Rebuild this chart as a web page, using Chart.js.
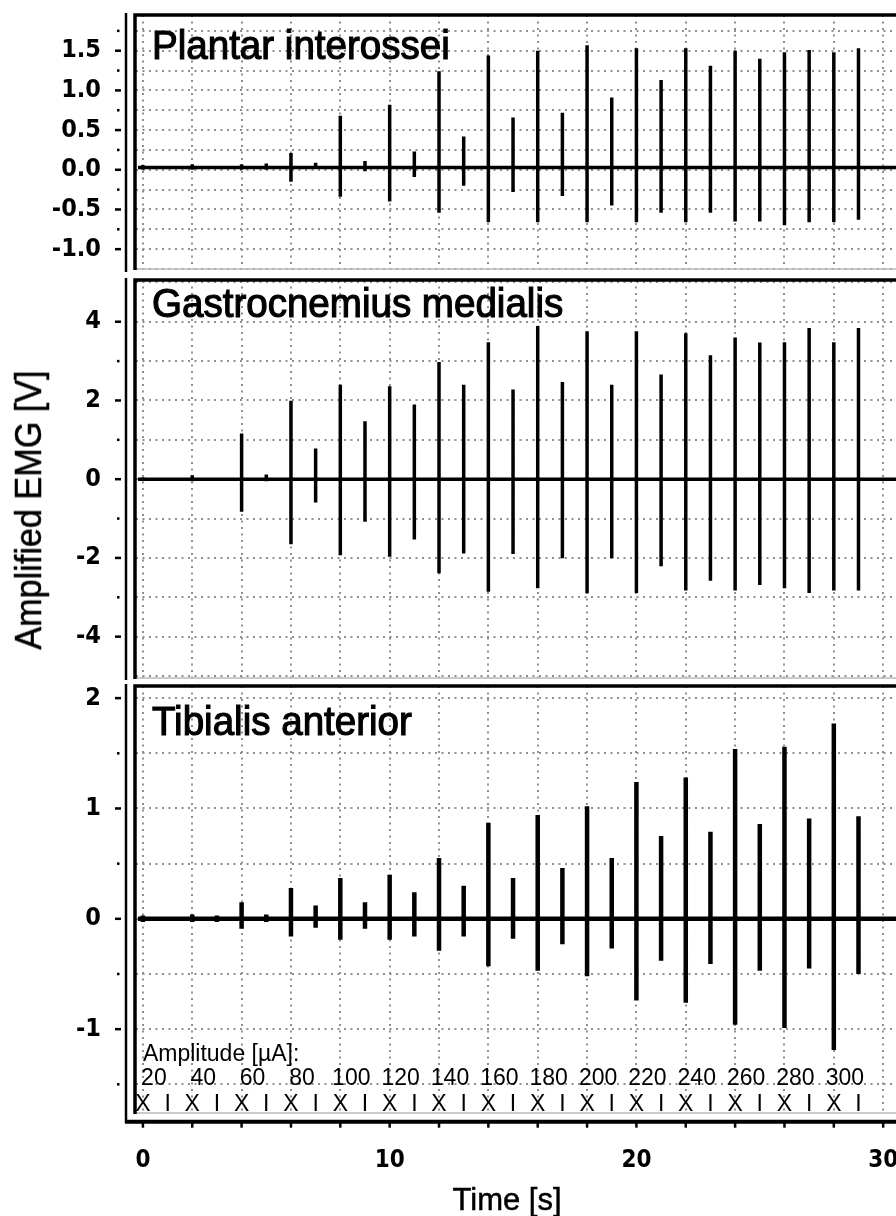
<!DOCTYPE html>
<html>
<head>
<meta charset="utf-8">
<script src="https://cdn.jsdelivr.net/npm/chart.js@4.4.1/dist/chart.umd.min.js"></script>
<style>
html, body { margin: 0; padding: 0; background: #fff; overflow: hidden; }
#wrap { position: relative; width: 896px; height: 1216px; }
#wrap canvas { position: absolute; left: 0; }
.axtitle { position: absolute; white-space: nowrap; line-height: 1; color: #000;
  font-family: "Liberation Sans", Arial, sans-serif; -webkit-text-stroke: 0.5px #000; }
#ytitle { left: 29px; top: 510px; font-size: 36px;
  transform: translate(-50%, -50%) rotate(-90deg) scaleX(0.95); }
#xtitle { left: 507px; top: 1184px; font-size: 31px; transform: translateX(-50%); }
</style>
</head>
<body>
<div id="wrap">
  <canvas id="plantar" width="896" height="272" style="top:0px"></canvas>
  <canvas id="gastro" width="896" height="408" style="top:272px"></canvas>
  <canvas id="tibialis" width="896" height="536" style="top:680px"></canvas>
  <div id="ytitle" class="axtitle">Amplified EMG [V]</div>
  <div id="xtitle" class="axtitle">Time [s]</div>
</div>
<script>
// stimulus times [s], one pulse per second
var stimTimes = [0, 1, 2, 3, 4, 5, 6, 7, 8, 9, 10, 11, 12, 13, 14, 15, 16, 17, 18, 19, 20, 21, 22, 23, 24, 25, 26, 27, 28, 29];

// peak / trough of each evoked response [V]
var plantarMax = [0.06, 0.03, 0.07, 0.03, 0.07, 0.08, 0.21, 0.09, 0.68, 0.11, 0.82, 0.23, 1.24, 0.42, 1.44, 0.66, 1.50, 0.72, 1.57, 0.91, 1.53, 1.13, 1.53, 1.31, 1.50, 1.40, 1.48, 1.51, 1.48, 1.53];
var plantarMin = [0.00, 0.03, 0.00, 0.03, 0.00, 0.00, -0.15, 0.02, -0.34, -0.02, -0.40, -0.09, -0.54, -0.20, -0.66, -0.28, -0.66, -0.33, -0.66, -0.45, -0.66, -0.54, -0.66, -0.54, -0.65, -0.65, -0.70, -0.66, -0.66, -0.63];

var gastroMax = [0.05, 0.00, 0.10, 0.00, 1.16, 0.12, 1.99, 0.78, 2.40, 1.47, 2.36, 1.90, 2.98, 2.40, 3.48, 2.28, 3.89, 2.47, 3.76, 2.40, 3.76, 2.66, 3.71, 3.15, 3.60, 3.47, 3.48, 3.84, 3.48, 3.84];
var gastroMin = [-0.03, 0.00, -0.05, 0.00, -0.83, -0.05, -1.65, -0.59, -1.93, -1.08, -1.97, -1.53, -2.39, -1.89, -2.86, -1.90, -2.77, -2.01, -2.90, -2.01, -2.89, -2.21, -2.83, -2.58, -2.83, -2.69, -2.77, -2.89, -2.83, -2.83];

var tibialisMax = [0.03, 0.02, 0.04, 0.03, 0.15, 0.04, 0.28, 0.12, 0.37, 0.15, 0.40, 0.24, 0.55, 0.30, 0.87, 0.37, 0.94, 0.46, 1.02, 0.55, 1.24, 0.75, 1.28, 0.79, 1.54, 0.86, 1.56, 0.91, 1.77, 0.93];
var tibialisMin = [-0.03, -0.02, -0.03, -0.03, -0.09, -0.03, -0.16, -0.08, -0.19, -0.09, -0.19, -0.16, -0.29, -0.16, -0.43, -0.18, -0.47, -0.23, -0.52, -0.27, -0.74, -0.38, -0.76, -0.41, -0.96, -0.47, -0.99, -0.45, -1.19, -0.50];

// resting level of each trace
var plantarRest = 0.03;
var gastroRest = 0;
var tibialisRest = 0;
var traceStart = -0.2;
var traceEnd = 30.6;

// axes
var timeTicks = [0, 2, 4, 6, 8, 10, 12, 14, 16, 18, 20, 22, 24, 26, 28, 30];
var timeLabels = [0, 10, 20, 30];
var plantarTicks = [-1.25, -1, -0.75, -0.5, -0.25, 0, 0.25, 0.5, 0.75, 1, 1.25, 1.5, 1.75];
var plantarLabels = [-1, -0.5, 0, 0.5, 1, 1.5];
var gastroTicks = [-5, -4, -3, -2, -1, 0, 1, 2, 3, 4, 5];
var gastroLabels = [-4, -2, 0, 2, 4];
var tibialisTicks = [-1.5, -1, -0.5, 0, 0.5, 1, 1.5, 2];
var tibialisLabels = [-1, 0, 1, 2];

// stimulation protocol
var ampTimes = [0, 2, 4, 6, 8, 10, 12, 14, 16, 18, 20, 22, 24, 26, 28];
var amplitudes = [20, 40, 60, 80, 100, 120, 140, 160, 180, 200, 220, 240, 260, 280, 300];
var pulseMarks = ['X', 'I', 'X', 'I', 'X', 'I', 'X', 'I', 'X', 'I', 'X', 'I', 'X', 'I', 'X', 'I', 'X', 'I', 'X', 'I', 'X', 'I', 'X', 'I', 'X', 'I', 'X', 'I', 'X', 'I'];

var tickFont = "'DejaVu Sans Condensed', 'DejaVu Sans', sans-serif";
var textFont = "'Liberation Sans', Arial, sans-serif";

function trace(maxs, mins, rest) {
    var pts = [{ x: traceStart, y: rest }];
    stimTimes.forEach(function (t, i) {
        pts.push({ x: t, y: rest }, { x: t, y: maxs[i] }, { x: t, y: mins[i] }, { x: t, y: rest });
    });
    pts.push({ x: traceEnd, y: rest });
    return pts;
}

function fmt(v, dec) {
    return dec ? v.toFixed(dec) : String(v);
}

var panelDecor = {
    id: 'panelDecor',
    afterDraw: function (chart, args, o) {
        var ctx = chart.ctx, a = chart.chartArea;
        var x = chart.scales.x, y = chart.scales.y;
        var axX = a.left - 10;
        ctx.save();

        // grey lower edge of panel
        ctx.strokeStyle = '#b8b8b8';
        ctx.lineWidth = 1.5;
        ctx.beginPath();
        ctx.moveTo(a.left, a.bottom);
        ctx.lineTo(a.right, a.bottom);
        ctx.stroke();

        // heavy top / left frame
        ctx.strokeStyle = '#000';
        ctx.lineWidth = 3.5;
        ctx.beginPath();
        ctx.moveTo(a.left - 1, a.bottom + 1);
        ctx.lineTo(a.left - 1, a.top);
        ctx.lineTo(a.right, a.top);
        ctx.stroke();

        // y axis line + ticks
        var axBottom = o.xAxis ? a.bottom + 10 : a.bottom + 3;
        ctx.lineWidth = 2.5;
        ctx.beginPath();
        ctx.moveTo(axX, a.top - 2);
        ctx.lineTo(axX, axBottom);
        ctx.stroke();
        ctx.fillStyle = '#000';
        y.ticks.forEach(function (t) {
            var py = y.getPixelForValue(t.value);
            if (o.labels.indexOf(t.value) >= 0) {
                ctx.fillRect(axX - 11, py - 1.25, 6, 2.5);
            } else if (py > a.top + 4 && py < a.bottom - 4) {
                ctx.fillRect(axX - 9, py - 1.25, 2.5, 2.5);
            }
        });

        // x axis on the lowest panel
        if (o.xAxis) {
            var ay = a.bottom + 8.7;
            ctx.lineWidth = 4;
            ctx.beginPath();
            ctx.moveTo(axX - 1, ay);
            ctx.lineTo(a.right, ay);
            ctx.stroke();
            ctx.lineWidth = 2.5;
            timeTicks.forEach(function (t) {
                var px = x.getPixelForValue(t);
                ctx.beginPath();
                ctx.moveTo(px, ay);
                ctx.lineTo(px, ay + 6);
                ctx.stroke();
            });
        }

        // panel title
        ctx.save();
        ctx.font = '41px ' + textFont;
        ctx.translate(a.left + 16, a.top + o.titleDy);
        ctx.scale(0.94, 1);
        ctx.fillText(o.title, 0, 0);
        ctx.lineWidth = 1.2;
        ctx.strokeText(o.title, 0, 0);
        ctx.restore();

        // stimulation amplitudes
        if (o.amps) {
            ctx.font = '23px ' + textFont;
            ctx.textAlign = 'left';
            ctx.fillText('Amplitude [\u00b5A]:', x.getPixelForValue(0), y.getPixelForValue(-1.285));
            ctx.textAlign = 'center';
            ampTimes.forEach(function (t, i) {
                ctx.fillText(String(amplitudes[i]), x.getPixelForValue(t) + 11, y.getPixelForValue(-1.51));
            });
            stimTimes.forEach(function (t, i) {
                ctx.fillText(pulseMarks[i], x.getPixelForValue(t), y.getPixelForValue(-1.74));
            });
        }
        ctx.restore();
    }
};

function makePanel(id, cfg) {
    return new Chart(document.getElementById(id), {
        type: 'line',
        data: {
            datasets: [{
                data: cfg.data,
                borderColor: '#000',
                borderWidth: cfg.lineWidth,
                borderJoinStyle: 'bevel',
                pointRadius: 0,
                tension: 0
            }]
        },
        options: {
            responsive: false,
            animation: false,
            events: [],
            layout: { padding: { top: cfg.padTop, bottom: cfg.padBottom, left: 0, right: 0 } },
            plugins: {
                legend: { display: false },
                tooltip: { enabled: false },
                panelDecor: { title: cfg.title, titleDy: cfg.titleDy, labels: cfg.labels, xAxis: cfg.xAxis, amps: cfg.amps }
            },
            scales: {
                x: {
                    type: 'linear',
                    min: -0.28,
                    max: 30.52,
                    afterBuildTicks: function (s) {
                        s.ticks = timeTicks.map(function (v) { return { value: v }; });
                    },
                    afterFit: function (s) {
                        s.height = cfg.xAxis ? 103 : 0;
                        s.paddingLeft = 0;
                        s.paddingRight = 0;
                    },
                    grid: { color: '#8f8f8f', lineWidth: 2, drawTicks: false },
                    border: { display: false, dash: [2, 4.5] },
                    ticks: {
                        display: cfg.xAxis,
                        padding: 33,
                        color: '#000',
                        font: { family: tickFont, size: 24, weight: 'bold' },
                        maxRotation: 0,
                        autoSkip: false,
                        callback: function (v) { return timeLabels.indexOf(v) >= 0 ? String(v) : ''; }
                    }
                },
                y: {
                    min: cfg.min,
                    max: cfg.max,
                    afterBuildTicks: function (s) {
                        s.ticks = cfg.ticks.map(function (v) { return { value: v }; });
                    },
                    afterFit: function (s) {
                        s.width = 136;
                        s.paddingTop = 0;
                        s.paddingBottom = 0;
                    },
                    grid: { color: '#8f8f8f', lineWidth: 2, drawTicks: false },
                    border: { display: false, dash: [2, 4.5] },
                    ticks: {
                        padding: 35,
                        color: '#000',
                        font: { family: tickFont, size: 25, weight: 'bold' },
                        autoSkip: false,
                        callback: function (v) { return cfg.labels.indexOf(v) >= 0 ? fmt(v, cfg.dec) : ''; }
                    }
                }
            }
        },
        plugins: [panelDecor]
    });
}

makePanel('plantar', {
    data: trace(plantarMax, plantarMin, plantarRest),
    lineWidth: 3.5, padTop: 15, padBottom: 3,
    min: -1.25, max: 1.95, ticks: plantarTicks, labels: plantarLabels, dec: 1,
    title: 'Plantar interossei', titleDy: 44, xAxis: false, amps: false
});
makePanel('gastro', {
    data: trace(gastroMax, gastroMin, gastroRest),
    lineWidth: 3.5, padTop: 8, padBottom: 2,
    min: -5.05, max: 5.06, ticks: gastroTicks, labels: gastroLabels, dec: 0,
    title: 'Gastrocnemius medialis', titleDy: 37, xAxis: false, amps: false
});
makePanel('tibialis', {
    data: trace(tibialisMax, tibialisMin, tibialisRest),
    lineWidth: 4.5, padTop: 6, padBottom: 0,
    min: -1.76, max: 2.11, ticks: tibialisTicks, labels: tibialisLabels, dec: 0,
    title: 'Tibialis anterior', titleDy: 49, xAxis: true, amps: true
});
</script>
</body>
</html>
